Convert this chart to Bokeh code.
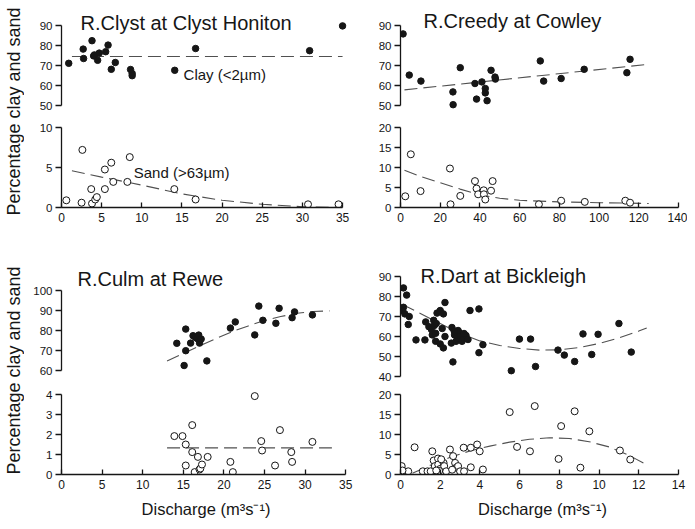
import numpy as np
from bokeh.plotting import figure
from bokeh.layouts import row, column
from bokeh.models import Range1d, LinearAxis, SingleIntervalTicker, Label
from bokeh.embed import file_html
from bokeh.resources import INLINE

FONT = "Liberation Sans"
INK = "#161616"
TREND = "#505050"

# ---------------- data ----------------
clyst_clay_q = [0.9, 2.7, 2.75, 3.8, 4.0, 4.1, 4.5, 4.7, 5.5, 5.8, 6.2, 6.7, 8.6, 8.8, 8.8, 14.1, 16.7, 30.9, 35.0]
clyst_clay = [71.1, 78.2, 73.5, 82.4, 74.8, 75.3, 72.6, 76.2, 76.9, 80.2, 68.1, 71.5, 68.0, 66.0, 64.9, 67.6, 78.5, 77.4, 89.8]
clyst_sand_q = [0.6, 2.5, 2.6, 3.7, 3.8, 4.2, 4.4, 5.4, 5.4, 6.2, 6.45, 8.2, 8.5, 14.05, 16.7, 30.7, 34.5]
clyst_sand = [0.9, 0.6, 7.2, 2.3, 0.5, 1.0, 1.3, 4.75, 2.3, 5.6, 3.2, 3.2, 6.3, 2.3, 1.0, 0.4, 0.4]
clyst_clay_fit_q = [1.3, 35.0]
clyst_clay_fit = [74.5, 74.5]
clyst_sand_fit_q = [1.3, 5, 10, 15, 20, 25, 30, 35]
clyst_sand_fit = [4.6, 3.8, 2.8, 1.7, 0.9, 0.4, 0.1, 0.0]

creedy_clay_q = [1.3, 4.4, 10.3, 26.4, 26.5, 30.1, 37.5, 38.3, 41.0, 42.7, 42.7, 43.6, 45.6, 47.6, 47.8, 70.4, 72.1, 80.9, 92.5, 114.0, 115.6]
creedy_clay = [85.8, 65.2, 62.2, 56.8, 50.4, 68.9, 61.0, 53.2, 61.8, 58.5, 56.3, 52.4, 67.6, 64.2, 63.2, 72.3, 62.2, 63.5, 68.1, 66.4, 73.1]
creedy_sand_q = [2.4, 5.2, 10.1, 24.9, 25.2, 30.1, 37.5, 38.3, 39.1, 41.9, 42.0, 42.7, 45.6, 46.4, 69.7, 80.9, 92.8, 113.2, 115.6]
creedy_sand = [2.8, 13.3, 4.1, 9.75, 0.8, 2.9, 6.6, 4.75, 3.3, 4.3, 3.3, 2.0, 4.2, 6.6, 0.8, 1.7, 1.4, 1.7, 1.2]
creedy_clay_fit_q = [2, 125]
creedy_clay_fit = [57.8, 70.6]
creedy_sand_fit_q = [2, 10, 20, 30, 40, 50, 60, 80, 100, 125]
creedy_sand_fit = [9.3, 7.8, 6.2, 4.6, 3.2, 2.3, 1.8, 1.4, 1.2, 1.0]

culm_clay_q = [14.2, 15.1, 15.3, 15.3, 15.9, 16.2, 16.5, 16.7, 16.9, 17.0, 17.2, 17.9, 20.8, 21.4, 23.8, 24.3, 24.8, 26.4, 26.8, 28.4, 28.7, 30.9]
culm_clay = [73.6, 62.5, 80.7, 69.9, 73.7, 77.4, 76.5, 76.0, 77.7, 73.7, 75.7, 64.8, 81.2, 84.3, 77.8, 92.2, 85.1, 83.6, 91.1, 86.4, 89.3, 87.8]
culm_sand_q = [13.9, 14.9, 15.3, 15.3, 16.1, 16.1, 16.4, 16.8, 17.0, 17.1, 17.3, 18.0, 20.8, 21.1, 23.8, 24.6, 24.7, 26.3, 26.9, 28.3, 28.4, 30.9]
culm_sand = [1.92, 1.92, 1.5, 0.45, 2.47, 1.12, 0.12, 0.88, 0.25, 0.3, 0.5, 0.88, 0.63, 0.12, 3.92, 1.67, 1.2, 0.45, 2.22, 1.12, 0.63, 1.63]
culm_clay_fit_q = [13, 15, 17, 19, 21, 23, 25, 27, 29, 31, 33]
culm_clay_fit = [64.8, 68.5, 72.3, 75.9, 79.4, 82.3, 85.0, 87.0, 88.6, 89.5, 89.8]
culm_sand_fit_q = [13, 33.3]
culm_sand_fit = [1.33, 1.33]

dart_clay_q = [0.15, 0.31, 0.15, 0.11, 0.22, 0.44, 0.39, 0.78, 1.23, 1.27, 1.43, 1.56, 1.67, 1.60, 1.77, 1.77,
               1.84, 2.0, 2.16, 2.24, 2.0, 2.16, 2.1, 2.24, 2.56, 2.59, 2.64, 2.72, 2.8, 2.87, 2.95, 3.02,
               3.1, 3.18, 3.3, 3.4, 3.5, 3.95, 3.95, 4.15, 5.58, 5.99, 6.55, 6.80, 7.93, 8.25, 8.77, 9.19,
               9.63, 9.95, 11.0, 11.62, 1.7, 1.8, 2.9, 3.2, 2.7]
dart_clay = [84.3, 80.7, 74.6, 73.0, 71.3, 70.0, 66.0, 58.3, 58.3, 67.3, 64.9, 63.5, 68.1, 60.8, 61.6, 57.6,
             71.7, 73.0, 71.3, 77.0, 56.3, 54.3, 64.0, 60.0, 56.7, 64.5, 47.3, 60.8, 57.6, 59.2, 62.0, 60.0,
             57.6, 59.2, 60.5, 58.5, 73.0, 73.8, 51.9, 55.9, 42.9, 58.7, 58.7, 45.0, 53.2, 50.7, 47.5, 61.3,
             51.0, 61.1, 66.5, 52.2, 65.5, 66.5, 63.0, 61.5, 62.8]
dart_sand_q = [0.06, 0.17, 0.39, 0.71, 1.12, 1.36, 1.52, 1.60, 1.67, 1.73, 1.89, 1.9, 2.0, 2.17, 2.2, 2.3,
               2.49, 2.65, 2.75, 2.8, 2.9, 3.0, 3.2, 3.18, 3.54, 3.54, 3.86, 3.99, 4.15, 5.50, 5.87, 6.52,
               6.76, 7.96, 8.09, 8.77, 9.06, 9.51, 11.05, 11.57, 0.1, 2.05, 1.95, 2.6, 1.8]
dart_sand = [2.1, 0.8, 0.8, 6.8, 0.8, 0.8, 0.8, 5.8, 3.5, 2.1, 4.0, 2.5, 1.4, 2.9, 2.1, 0.8,
             6.25, 4.6, 2.9, 1.7, 2.1, 0.8, 0.8, 6.7, 6.7, 1.8, 7.5, 5.8, 1.25, 15.6, 6.9, 5.8,
             17.1, 3.9, 12.1, 15.8, 1.7, 10.8, 6.0, 3.75, 1.0, 3.8, 0.9, 1.2, 1.0]
dart_clay_fit_q = [0.1, 1, 2, 3, 4, 5, 6, 7, 8, 9, 10, 11, 12, 12.4]
dart_clay_fit = [76.0, 71.5, 66.5, 61.5, 57.8, 55.5, 54.0, 53.2, 53.3, 54.5, 56.5, 59.3, 62.7, 64.2]
dart_sand_fit_q = [0.6, 1.5, 2.5, 3.5, 4.5, 5.5, 6.5, 7.5, 8.5, 9.5, 10.5, 11.5, 12.5]
dart_sand_fit = [0.3, 2.3, 4.3, 5.9, 7.1, 8.1, 8.8, 9.2, 9.0, 8.2, 6.9, 4.8, 2.2]

titles = ["R.Clyst at Clyst Honiton", "R.Creedy at Cowley", "R.Culm at Rewe", "R.Dart at Bickleigh"]
ylabel = "Percentage clay and sand"
xlabel = "Discharge (m\u00b3s\u207b\u00b9)"
clay_note = "Clay (<2\u00b5m)"
sand_note = "Sand (>63\u00b5m)"

# ---------------- layout geometry (layout pixels) ----------------
LAB_W = 24
L_FIG_LEFT = LAB_W
L_ZERO, L_FRAME_W = 61, 289        # frame starts at x = 0
R_FIG_LEFT = 356
R_ZERO, R_FRAME_W = 400, 284
R_FIG_RIGHT = 687


def yrange_from(val, val_px, scale, frame_top, frame_h):
    end = val + (val_px - frame_top) / scale
    return end - frame_h / scale, end


def style_axis(ax, size):
    ax.axis_line_color = INK
    ax.axis_line_width = 1.3
    ax.major_tick_line_color = INK
    ax.major_tick_line_width = 1.3
    ax.minor_tick_line_color = None
    ax.major_label_text_font = FONT
    ax.major_label_text_font_size = size
    ax.major_label_text_color = INK


def make_fig(xr, yr, fw, fh, bl, br, bt, bb):
    p = figure(frame_width=fw, frame_height=fh,
               x_range=Range1d(*xr), y_range=Range1d(*yr),
               min_border_left=bl, min_border_right=br,
               min_border_top=bt, min_border_bottom=bb,
               x_axis_type=None, y_axis_type=None,
               output_backend="svg", toolbar_location=None)
    p.outline_line_color = None
    p.background_fill_color = "white"
    p.border_fill_color = "white"
    return p


def add_yaxis(p, lo, hi, step):
    ax = LinearAxis(ticker=SingleIntervalTicker(interval=step, num_minor_ticks=0),
                    bounds=(lo, hi))
    style_axis(ax, "11.5px")
    ax.major_tick_in = 0
    ax.major_tick_out = 6
    ax.major_label_standoff = 3
    p.add_layout(ax, "left")


def add_xaxis(p, lo, hi, step, label=None):
    ax = LinearAxis(ticker=SingleIntervalTicker(interval=step, num_minor_ticks=0),
                    bounds=(lo, hi))
    style_axis(ax, "12px")
    ax.major_tick_in = 5
    ax.major_tick_out = 0
    ax.major_label_standoff = 5
    if label:
        ax.axis_label = label
        ax.axis_label_text_font = FONT
        ax.axis_label_text_font_size = "16.5px"
        ax.axis_label_text_font_style = "normal"
        ax.axis_label_text_color = INK
        ax.axis_label_standoff = 8
    p.add_layout(ax, "below")


def plot_points(p, q, v, fq, fv, filled):
    p.line(fq, fv, line_color=TREND, line_width=1.1, line_dash="13 6")
    if filled:
        p.scatter(q, v, marker="circle", size=6.5, fill_color=INK, line_color=INK)
    else:
        p.scatter(q, v, marker="circle", size=7, fill_color="white", line_color=INK, line_width=1)


def add_title(p, text, scale_x, zero_px, yr_end, frame_top, scale_y, px, py):
    x = (px - zero_px) / scale_x
    y = yr_end - (py - frame_top) / scale_y
    p.add_layout(Label(x=x, y=y, text=text, text_font=FONT, text_font_size="20px",
                       text_color=INK, text_align="left", text_baseline="alphabetic"))


# ---------------- panel builder ----------------
def panel(left, xscale, xhi_tick, xstep,
          clay_top, clay_bottom, clay_anchor, clay_anchor_px, clay_lo, clay_hi, clay_step,
          sand_top, sand_zero_px, sand_scale, sand_hi, sand_step, bottom_px,
          data, title, title_px, title_py, xlab=None):
    if left:
        zero, fw = L_ZERO, L_FRAME_W
        bl = L_ZERO - L_FIG_LEFT
        br = R_FIG_LEFT - (L_ZERO + L_FRAME_W)
    else:
        zero, fw = R_ZERO, R_FRAME_W
        bl = R_ZERO - R_FIG_LEFT
        br = R_FIG_RIGHT - (R_ZERO + R_FRAME_W)
    xr = (0, fw / xscale)
    cq, cv, sq, sv, cfq, cfv, sfq, sfv = data

    clay_h = clay_bottom - clay_top
    yr_c = yrange_from(clay_anchor, clay_anchor_px, 2.0, clay_top, clay_h)
    pc = make_fig(xr, yr_c, fw, clay_h, bl, br, 0, sand_top - clay_bottom)
    add_yaxis(pc, clay_lo, clay_hi, clay_step)
    plot_points(pc, cq, cv, cfq, cfv, True)
    add_title(pc, title, xscale, zero, yr_c[1], clay_top, 2.0, title_px, title_py)

    sand_h = sand_zero_px - sand_top
    yr_s = (0, sand_h / sand_scale)
    ps = make_fig(xr, yr_s, fw, sand_h, bl, br, 0, bottom_px - sand_zero_px)
    add_yaxis(ps, 0, sand_hi, sand_step)
    add_xaxis(ps, 0, xhi_tick, xstep, xlab)
    plot_points(ps, sq, sv, sfq, sfv, False)
    return pc, ps


ROW2 = 256
BOTTOM = 521

# Row 1 (layout y from 0 to ROW2)
tl_c, tl_s = panel(True, 8.03, 35, 5,
                   0, 110, 90, 25, 50, 90, 10,
                   123, 207, 8.0, 10, 5, ROW2,
                   (clyst_clay_q, clyst_clay, clyst_sand_q, clyst_sand,
                    clyst_clay_fit_q, clyst_clay_fit, clyst_sand_fit_q, clyst_sand_fit),
                   titles[0], 80, 22)
tl_c.add_layout(Label(x=15.2, y=65.6, text=clay_note, text_font=FONT, text_font_size="15px",
                      text_color=INK, text_baseline="middle"))
tl_s.add_layout(Label(x=9.0, y=4.4, text=sand_note, text_font=FONT, text_font_size="15px",
                      text_color=INK, text_baseline="middle"))

tr_c, tr_s = panel(False, 278 / 140, 140, 20,
                   0, 110, 90, 25, 50, 90, 10,
                   123, 207, 4.0, 20, 5, ROW2,
                   (creedy_clay_q, creedy_clay, creedy_sand_q, creedy_sand,
                    creedy_clay_fit_q, creedy_clay_fit, creedy_sand_fit_q, creedy_sand_fit),
                   titles[1], 423, 20)

# Row 2 (layout y from ROW2 to BOTTOM)
bl_c, bl_s = panel(True, 8.12, 35, 5,
                   ROW2, 374, 100, 290, 60, 100, 10,
                   390, 474, 20.0, 4, 1, BOTTOM,
                   (culm_clay_q, culm_clay, culm_sand_q, culm_sand,
                    culm_clay_fit_q, culm_clay_fit, culm_sand_fit_q, culm_sand_fit),
                   titles[2], 77, 278, xlabel)

br_c, br_s = panel(False, 278 / 14, 14, 2,
                   ROW2, 380, 90, 276, 40, 90, 10,
                   390, 474, 4.0, 20, 5, BOTTOM,
                   (dart_clay_q, dart_clay, dart_sand_q, dart_sand,
                    dart_clay_fit_q, dart_clay_fit, dart_sand_fit_q, dart_sand_fit),
                   titles[3], 420, 275, xlabel)


def ylabel_fig(h, center_from_top):
    p = figure(width=LAB_W, height=h, x_range=Range1d(0, LAB_W), y_range=Range1d(0, h),
               min_border=0, x_axis_type=None, y_axis_type=None,
               output_backend="svg", toolbar_location=None)
    p.outline_line_color = None
    p.add_layout(Label(x=13, y=h - center_from_top, text=ylabel, angle=np.pi / 2,
                       text_font=FONT, text_font_size="18px", text_color=INK,
                       text_align="center", text_baseline="middle"))
    return p


lab1 = ylabel_fig(ROW2, 111)
lab2 = ylabel_fig(BOTTOM - ROW2, 114)

layout = column(
    row(lab1, column(tl_c, tl_s), column(tr_c, tr_s)),
    row(lab2, column(bl_c, bl_s), column(br_c, br_s)),
)

open("out.html", "w").write(file_html(layout, INLINE))
